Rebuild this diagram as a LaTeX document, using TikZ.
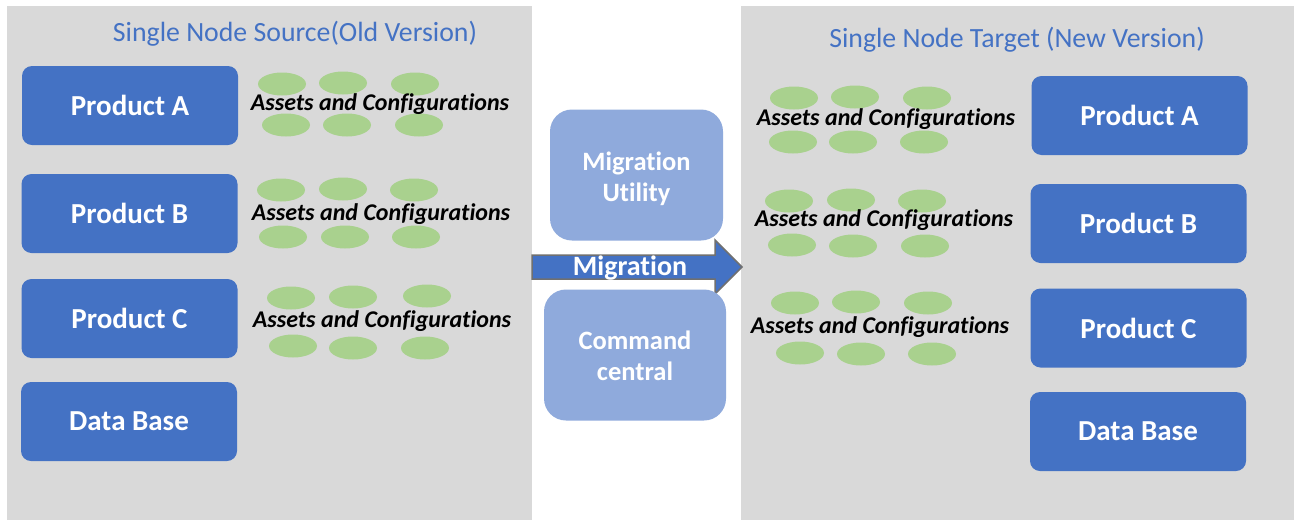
\documentclass[tikz,border=0pt]{standalone}
\usepackage{fontspec}
\setmainfont[Ligatures=NoCommon]{Carlito}
\usetikzlibrary{shapes.geometric}
\definecolor{boxblue}{HTML}{4472C4}
\definecolor{midblue}{HTML}{8FAADC}
\definecolor{leafgreen}{HTML}{A9D18E}
\definecolor{panelgrey}{HTML}{D9D9D9}
\definecolor{titleblue}{HTML}{4472C4}
\definecolor{arrowgrey}{HTML}{707070}
\begin{document}
\begin{tikzpicture}[x=1pt,y=-1pt,
  prod/.style={fill=boxblue, rounded corners=10pt, text=white,
    font=\fontsize{29}{31}\selectfont\bfseries,
    minimum width=216pt, minimum height=79pt, inner sep=0pt},
  midbox/.style={fill=midblue, rounded corners=22pt, inner sep=0pt},
  midtext/.style={text=white, font=\fontsize{26.5}{31}\selectfont\bfseries,
    align=center, inner sep=0pt},
  leaf/.style={ellipse, fill=leafgreen, minimum width=48pt,
    minimum height=23pt, inner sep=0pt},
  assets/.style={font=\fontsize{24}{26}\selectfont\bfseries\itshape,
    text=black, inner sep=0pt},
  paneltitle/.style={font=\fontsize{27.8}{30}\selectfont, text=titleblue,
    inner sep=0pt}]
\useasboundingbox (0,0) rectangle (1298,520);
\fill[white] (0,0) rectangle (1298,520);
\fill[panelgrey] (7,6) rectangle (532,520);
\fill[panelgrey] (741,6) rectangle (1294,520);

% titles
\node[paneltitle] (tl) at (295,33.5) {Single Node Source(Old Version)};
\node[paneltitle] (tr) at (1017,39.5) {Single Node Target (New Version)};

% left products
\node[prod] (lA) at (130,105.5) {Product A};
\node[prod] (lB) at (129.5,213.5) {Product B};
\node[prod] (lC) at (129.5,318.5) {Product C};
\node[prod] (lD) at (129,421.5) {Data Base};

% right products
\node[prod] (rA) at (1139.5,115.5) {Product A};
\node[prod] (rB) at (1138.5,223.5) {Product B};
\node[prod] (rC) at (1138.5,328) {Product C};
\node[prod] (rD) at (1138,431.5) {Data Base};

% left asset groups
\node[leaf] (la1) at (282,84) {};
\node[leaf] (la2) at (343,83) {};
\node[leaf] (la3) at (415,84) {};
\node[leaf] (la4) at (286,125) {};
\node[leaf] (la5) at (347,125) {};
\node[leaf] (la6) at (419,125) {};
\node[assets] (lat) at (380,104) {Assets and Configurations};

\node[leaf] (lb1) at (281,190) {};
\node[leaf] (lb2) at (343,189) {};
\node[leaf] (lb3) at (414,190) {};
\node[leaf] (lb4) at (283,237) {};
\node[leaf] (lb5) at (345,237) {};
\node[leaf] (lb6) at (416,237) {};
\node[assets] (lbt) at (381,214) {Assets and Configurations};

\node[leaf] (lc1) at (291,298) {};
\node[leaf] (lc2) at (353,297) {};
\node[leaf] (lc3) at (427,296) {};
\node[leaf] (lc4) at (293,346) {};
\node[leaf] (lc5) at (353,348) {};
\node[leaf] (lc6) at (425,348) {};
\node[assets] (lct) at (382,321.5) {Assets and Configurations};

% right asset groups
\node[leaf] (ra1) at (794,98) {};
\node[leaf] (ra2) at (855,97) {};
\node[leaf] (ra3) at (927,98) {};
\node[leaf] (ra4) at (793,142) {};
\node[leaf] (ra5) at (853,142) {};
\node[leaf] (ra6) at (924,142) {};
\node[assets] (rat) at (886,119.5) {Assets and Configurations};

\node[leaf] (rb1) at (789,201) {};
\node[leaf] (rb2) at (851,200) {};
\node[leaf] (rb3) at (922,201) {};
\node[leaf] (rb4) at (792,245) {};
\node[leaf] (rb5) at (853,246) {};
\node[leaf] (rb6) at (925,246) {};
\node[assets] (rbt) at (884,220.5) {Assets and Configurations};

\node[leaf] (rc1) at (795,303) {};
\node[leaf] (rc2) at (856,302) {};
\node[leaf] (rc3) at (928,303) {};
\node[leaf] (rc4) at (800,353) {};
\node[leaf] (rc5) at (861,354) {};
\node[leaf] (rc6) at (932,354) {};
\node[assets] (rct) at (880,327.5) {Assets and Configurations};

% migration arrow
\draw[fill=boxblue, draw=arrowgrey, line width=1.5pt, line join=miter]
  (532,255) -- (715,255) -- (715,240) -- (742,267) -- (715,294)
  -- (715,279) -- (532,279) -- cycle;
\node[font=\fontsize{28}{30}\selectfont\bfseries, text=white, inner sep=0pt]
  (migtxt) at (630,268) {Migration};

% middle boxes
\node[midbox, minimum width=173pt, minimum height=131pt] (mu) at (636.5,175) {};
\node[midtext] (mut) at (636.5,178.5) {Migration\\Utility};
\node[midbox, minimum width=182pt, minimum height=131pt] (cc) at (635,355) {};
\node[midtext] (cct) at (635,356) {Command\\central};
\end{tikzpicture}
\end{document}
